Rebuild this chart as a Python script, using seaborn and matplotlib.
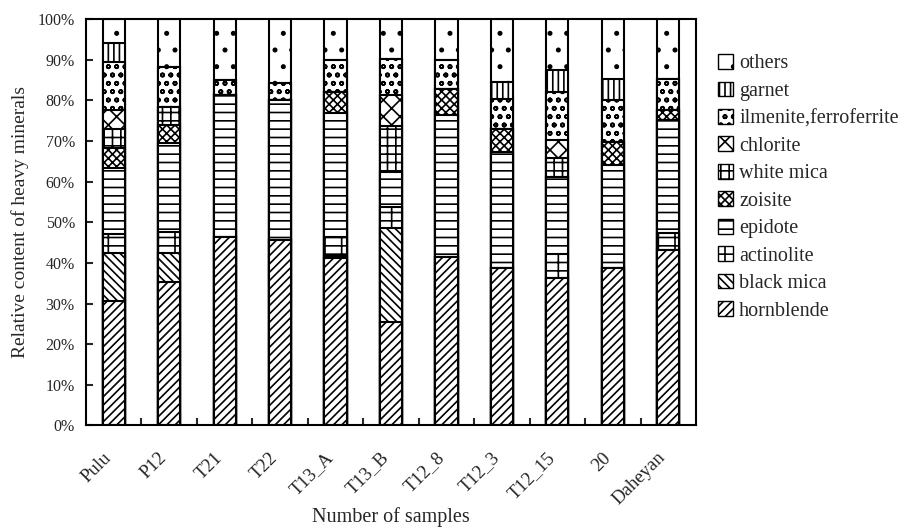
import pandas as pd
import numpy as np
from matplotlib import pyplot as plt
from matplotlib.patches import Patch
from matplotlib.ticker import PercentFormatter
from matplotlib.transforms import ScaledTranslation
import seaborn as sns

sns.set_theme(style='white')
plt.rcParams['font.family'] = ['Liberation Serif', 'DejaVu Serif']
plt.rcParams['hatch.linewidth'] = 1.2

# 样品与各矿物含量(%)，自下而上
samples = ['Pulu', 'P12', 'T21', 'T22', 'T13_A', 'T13_B', 'T12_8', 'T12_3', 'T12_15', '20', 'Daheyan']
hornblende = [30.8, 35.3, 46.3, 45.6, 41.2, 25.5, 41.5, 38.7, 36.2, 38.7, 43.1]
black_mica = [11.6, 7.2, 0, 0, 0.5, 23.0, 0, 0, 0, 0, 0]
actinolite = [4.9, 5.0, 0, 0, 4.7, 5.3, 0, 0, 6.1, 0, 4.2]
epidote = [16.2, 21.9, 34.9, 34.4, 30.4, 8.6, 35.0, 28.6, 18.8, 25.3, 27.8]
zoisite = [4.9, 4.6, 0, 0, 5.2, 0, 6.2, 5.7, 0, 5.7, 2.4]
white_mica = [4.7, 4.3, 0, 0, 0, 11.4, 0, 0, 4.6, 0, 0]
chlorite = [4.6, 0, 0, 0, 0, 7.4, 0, 0, 4.5, 0, 0]
ilmenite = [11.9, 9.9, 3.7, 4.2, 7.8, 9.0, 7.1, 7.4, 11.8, 10.3, 7.8]
garnet = [4.6, 0, 0, 0, 0, 0, 0, 4.1, 5.5, 5.3, 0]
others = [6.0, 11.8, 15.1, 15.8, 10.2, 9.8, 10.2, 15.5, 12.5, 14.7, 14.7]

minerals = ['hornblende', 'black mica', 'actinolite', 'epidote', 'zoisite',
            'white mica', 'chlorite', 'ilmenite,ferroferrite', 'garnet', 'others']
values = [hornblende, black_mica, actinolite, epidote, zoisite,
          white_mica, chlorite, ilmenite, garnet, others]
hatches = ['////', '\\\\\\\\', '-+', '--', 'xxxx', '++', 'xx', 'oo', '|||', '.']

df = pd.DataFrame(np.array(values).T, index=samples, columns=minerals)
df = df.div(df.sum(axis=1), axis=0) * 100
cum = df.cumsum(axis=1)

fig = plt.figure(figsize=(9.03, 5.29), dpi=100)
ax = fig.add_axes([0.0952, 0.1957, 0.6756, 0.7683])

# 从最上层开始画累计高度，下层覆盖上层
for m, h in zip(minerals[::-1], hatches[::-1]):
    d = pd.DataFrame({'sample': samples, 'cum': cum[m].values})
    sns.barplot(data=d, x='sample', y='cum', color='white', saturation=1,
                edgecolor='black', linewidth=1.5, hatch=h, width=0.4,
                errorbar=None, ax=ax)

ax.set_ylim(0, 100)
ax.set_xlim(-0.5, len(samples) - 0.5)
ax.set_yticks(np.arange(0, 101, 10))
ax.yaxis.set_major_formatter(PercentFormatter(decimals=0))
ax.set_xticks(np.arange(len(samples) - 1) + 0.5, minor=True)
ax.tick_params(axis='y', direction='in', length=5, width=1.5, labelsize=11.5, pad=8, left=True)
ax.tick_params(axis='x', which='major', length=0, labelsize=13.5, pad=17)
ax.tick_params(axis='x', which='minor', direction='in', length=5, width=1.5, bottom=True)
shift = ScaledTranslation(-8 / 72, 0, fig.dpi_scale_trans)
for lab in ax.get_xticklabels():
    lab.set_rotation(45)
    lab.set_ha('right')
    lab.set_rotation_mode('anchor')
    lab.set_transform(lab.get_transform() + shift)
for s in ax.spines.values():
    s.set_color('black')
    s.set_linewidth(1.5)

ax.set_ylabel('Relative content of heavy minerals', fontsize=14, labelpad=6)
ax.set_xlabel('Number of samples', fontsize=14.5)
ax.xaxis.set_label_coords(0.5, -0.2)

handles = [Patch(facecolor='white', edgecolor='black', hatch=h, label=m)
           for m, h in zip(minerals[::-1], hatches[::-1])]
ax.legend(handles=handles, loc='center left', bbox_to_anchor=(1.036, 0.586),
          frameon=False, fontsize=14.5, handlelength=0.75, handleheight=0.75,
          handletextpad=0.3, labelspacing=0.4, borderaxespad=0, borderpad=0)

plt.savefig('out.png', dpi=100)
